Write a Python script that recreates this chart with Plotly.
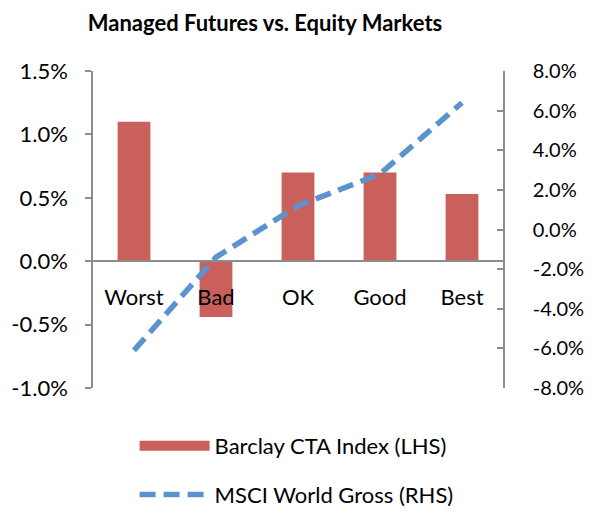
import plotly.graph_objects as go

categories = ["Worst", "Bad", "OK", "Good", "Best"]
cta_values = [1.10, -0.44, 0.70, 0.70, 0.53]      # Barclay CTA Index (LHS), %
msci_values = [-6.1, -1.4, 1.2, 2.8, 6.4]          # MSCI World Gross (RHS), %

left_ticks = [-1.0, -0.5, 0.0, 0.5, 1.0, 1.5]
left_labels = ["-1.0%", "-0.5%", "0.0%", "0.5%", "1.0%", "1.5%"]
right_ticks = [-8, -6, -4, -2, 0, 2, 4, 6, 8]
right_labels = ["-8.0%", "-6.0%", "-4.0%", "-2.0%", "0.0%", "2.0%", "4.0%", "6.0%", "8.0%"]

RED = "#C9605B"
BLUE = "#5B93CF"
GRAY = "#8C8C8C"
FONT = "Lato"

fig = go.Figure()
fig.add_trace(go.Bar(
    x=categories, y=cta_values, marker_color=RED, marker_line_width=0,
    showlegend=False, yaxis="y", name="Barclay CTA Index (LHS)"))
fig.add_trace(go.Scatter(
    x=categories, y=msci_values, mode="lines", yaxis="y2",
    line=dict(color=BLUE, width=5.5, dash="16px,8px"),
    showlegend=False, name="MSCI World Gross (RHS)"))
# legend entries
fig.add_trace(go.Scatter(
    x=[None], y=[None], mode="lines", name="Barclay CTA Index (LHS)",
    line=dict(color=RED, width=14), legendgroup="a"))
fig.add_trace(go.Scatter(
    x=[None], y=[None], mode="lines", name="MSCI World Gross (RHS)",
    line=dict(color=BLUE, width=5.5, dash="16px,8px"), legendgroup="b", yaxis="y2"))

fig.update_layout(
    width=584, height=502,
    margin=dict(l=85, r=89, t=63, b=122, autoexpand=False),
    paper_bgcolor="white", plot_bgcolor="white",
    font=dict(family=FONT, size=22, color="black"),
    title=dict(text="<b>Managed Futures vs. Equity Markets</b>",
               x=257 / 584, xanchor="center", y=1 - 15 / 502, yanchor="middle",
               font=dict(family=FONT, size=22, color="black")),
    bargap=0.6,
    xaxis=dict(anchor="free", position=0.4, showline=True, linecolor=GRAY,
               linewidth=1.5, ticks="outside", ticklen=17,
               tickcolor="rgba(0,0,0,0)", showgrid=False, zeroline=False,
               tickfont=dict(size=22), automargin=False),
    yaxis=dict(range=[-1.0, 1.5], tickvals=left_ticks, ticktext=left_labels,
               showline=True, linecolor=GRAY, linewidth=1.5,
               ticks="outside", ticklen=6, tickcolor=GRAY, tickwidth=1.5,
               showgrid=False, zeroline=False, ticklabelstandoff=13,
               automargin=False),
    yaxis2=dict(range=[-8, 8], tickvals=right_ticks, ticktext=right_labels,
                overlaying="y", side="right",
                showline=True, linecolor=GRAY, linewidth=1.5,
                ticks="inside", ticklen=6, tickcolor=GRAY, tickwidth=1.5,
                showgrid=False, zeroline=False, ticklabelstandoff=24,
                tickfont=dict(size=20), automargin=False),
    legend=dict(x=0.1015, xanchor="left", y=-0.1167, yanchor="top",
                orientation="v", traceorder="grouped", tracegroupgap=17,
                itemwidth=70, font=dict(size=22), bgcolor="rgba(0,0,0,0)"),
)

fig.write_html("out.html")
